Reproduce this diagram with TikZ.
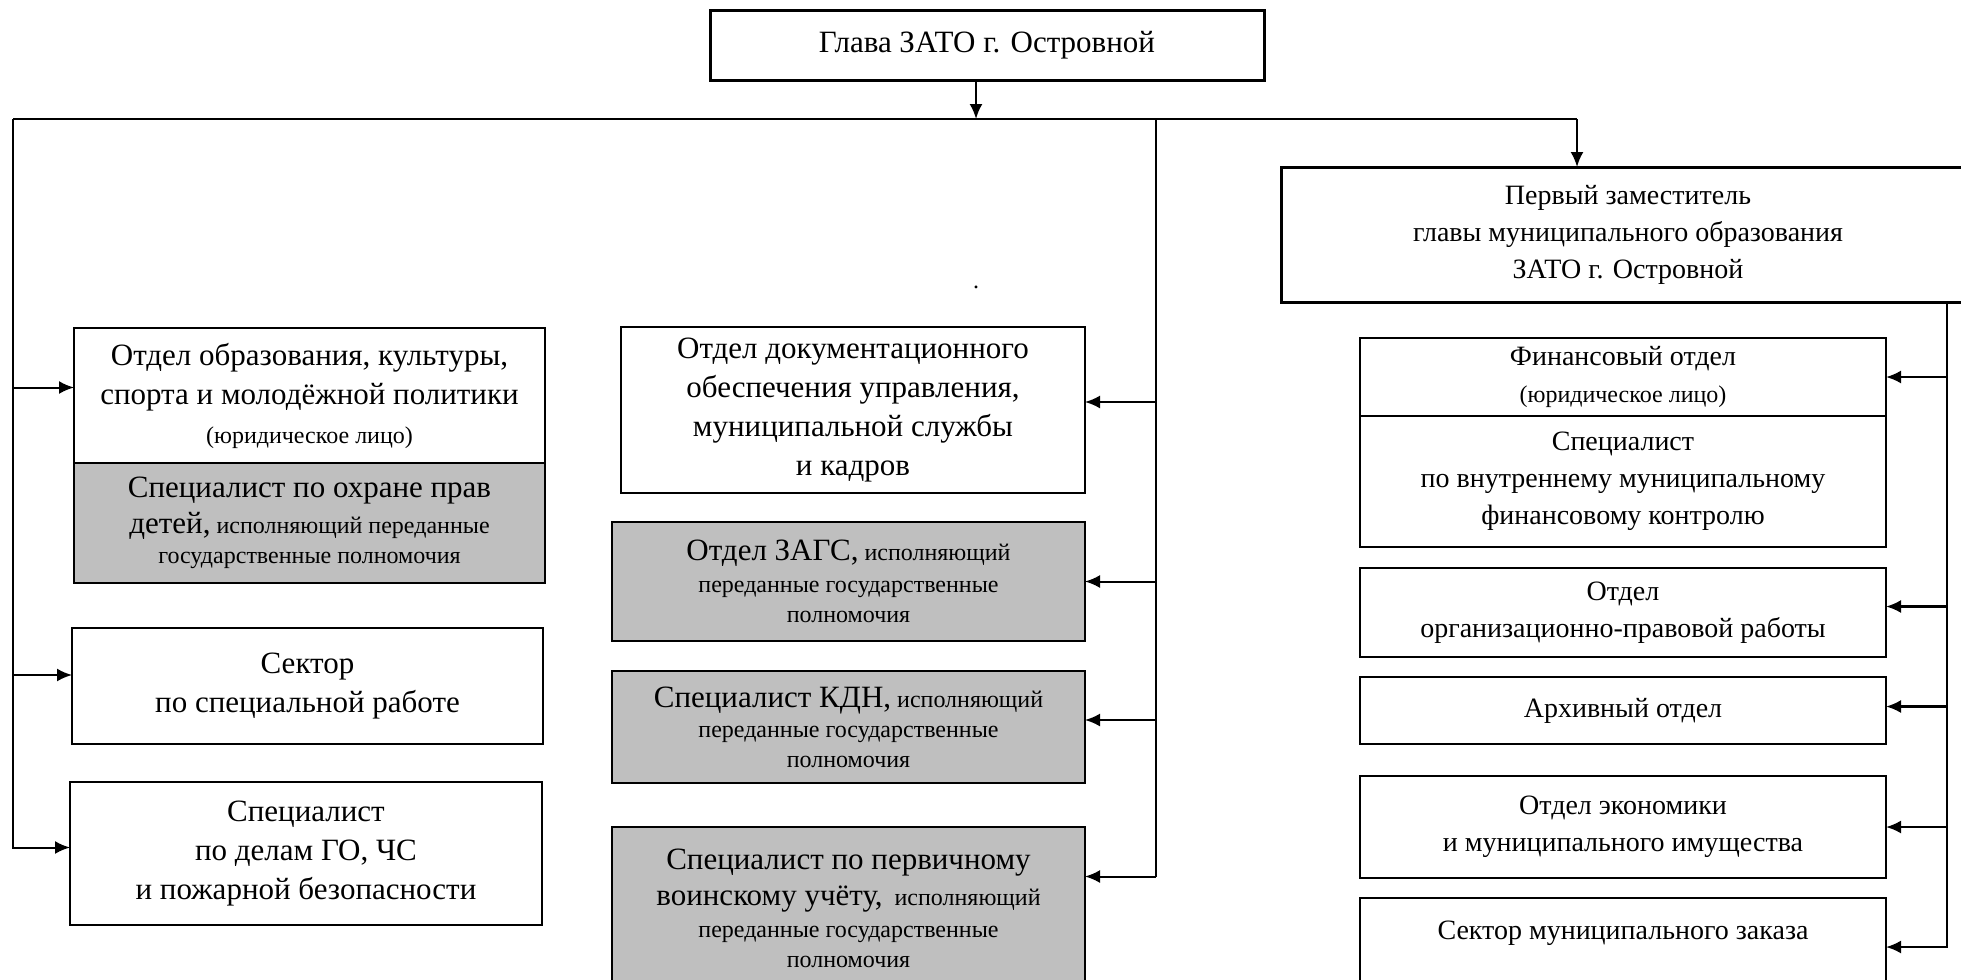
\documentclass[tikz,border=0pt]{standalone}
\usepackage{fontspec}
\setmainfont{Liberation Serif}
\usetikzlibrary{calc}
\usetikzlibrary{arrows.meta}
\tikzset{>={Latex[length=7.5pt,width=6.5pt]}}
\colorlet{grayfill}{black!25}
\newcommand{\bigf}{\fontsize{15.5}{19.5}\selectfont}
\newcommand{\midf}{\fontsize{14}{18.5}\selectfont}
\newcommand{\smallf}{\fontsize{12}{15}\selectfont}
\tikzset{unit/.style = {shape=rectangle,draw,line width=0.8pt,inner sep=0pt,outer sep=0pt,align=center,font=\bigf}}
\tikzset{grayunit/.style = {unit,fill=grayfill,font=\smallf}}
\tikzset{rightunit/.style = {unit,font=\midf,minimum width=263pt}}
\tikzset{headbox/.style = {unit,line width=1.5pt}}

\begin{document}
\begin{tikzpicture}[x=0.5pt,y=-0.5pt]
                    \clip (0,0) rectangle (1961,980);

                    \node[headbox,minimum width=277pt,minimum height=35pt] (glava) at (987,45) {Глава ЗАТО г. Островной};
                    \node[headbox,font=\midf,minimum width=347pt,minimum height=67.5pt] (zam) at (1628,234.5) {Первый заместитель\\главы муниципального образования\\ЗАТО г. Островной};
                    \node[font=\smallf,inner sep=0pt] (dot) at (976,287) {.};

                    % left column
                    \node[unit,minimum width=235.5pt,minimum height=67.5pt] (obr) at (309.5,395.5) {Отдел образования, культуры,\\спорта и молодёжной политики\\{\smallf (юридическое лицо)}};
                    \node[grayunit,minimum width=235.5pt,minimum height=60pt] (ohr) at (309.5,523) {{\bigf Специалист по охране прав}\\[3pt]{\bigf детей,} исполняющий переданные\\государственные полномочия};
                    \node[unit,minimum width=235.5pt,minimum height=58pt] (sekt) at (307.5,686) {Сектор\\по специальной работе};
                    \node[unit,minimum width=236pt,minimum height=71.5pt] (gochs) at (306,853.5) {Специалист\\по делам ГО, ЧС\\и пожарной безопасности};

                    % middle column
                    \node[unit,minimum width=232pt,minimum height=83pt] (doc) at (853,410) {Отдел документационного\\обеспечения управления,\\муниципальной службы\\и кадров};
                    \node[grayunit,minimum width=236.5pt,minimum height=59.5pt] (zags) at (848.5,581.5) {{\bigf Отдел ЗАГС,} исполняющий\\[1pt]переданные государственные\\полномочия};
                    \node[grayunit,minimum width=236.5pt,minimum height=56pt] (kdn) at (848.5,727) {{\bigf Специалист КДН,} исполняющий\\переданные государственные\\полномочия};
                    \node[grayunit,minimum width=236.5pt,minimum height=81.5pt] (vus) at (848.5,908.5) {{\bigf Специалист по первичному}\\[3pt]{\bigf воинскому учёту,}\ \ исполняющий\\[1pt]переданные государственные\\полномочия};

                    % right column
                    \node[rightunit,minimum height=39pt] (fin) at (1623,377) {Финансовый отдел\\{\smallf (юридическое лицо)}};
                    \node[rightunit,minimum height=65.5pt] (fink) at (1623,481.5) {Специалист\\по внутреннему муниципальному\\финансовому контролю};
                    \node[rightunit,minimum height=44.5pt] (orp) at (1623,612.5) {Отдел\\организационно-правовой работы};
                    \node[rightunit,minimum height=33.5pt] (arh) at (1623,710.5) {Архивный отдел};
                    \node[rightunit,minimum height=51pt] (econ) at (1623,827) {Отдел экономики\\и муниципального имущества};
                    \node[rightunit,line width=1.1pt,minimum height=51pt] (zak) at (1623,949) {Сектор муниципального заказа\\ \mbox{}};

                    \coordinate (busL) at (13,119);
                    \coordinate (busR) at (1577,119);
                    \coordinate (busG) at (976,119);
                    \coordinate (busM) at (1156,119);
                    \coordinate (spR) at (1947,302);
                    \coordinate (obrin) at ([yshift=4pt]obr.west);
                    \coordinate (sektin) at ([yshift=5.5pt]sekt.west);
                    \coordinate (gochsin) at ([yshift=3pt]gochs.west);
                    \coordinate (docin) at ([yshift=4pt]doc.east);
                    \coordinate (kdnin) at ([yshift=3.5pt]kdn.east);
                    \coordinate (vusin) at ([yshift=16pt]vus.east);
                    \coordinate (orpin) at ([yshift=3pt]orp.east);
                    \coordinate (arhin) at ([yshift=2pt]arh.east);
                    \coordinate (zakin) at ([yshift=1pt]zak.east);

                    \draw[line width=1.2pt] (busL) -- (busR);
                    \draw[->,line width=1.1pt] (busG |- glava.south) -- (busG);
                    \draw[->,line width=1.1pt] (busR) -- (busR |- zam.north);

                    \draw[->,line width=1pt] (busL) |- (gochsin);
                    \draw[->,line width=1pt] (busL |- obrin) -- (obrin);
                    \draw[->,line width=1pt] (busL |- sektin) -- (sektin);

                    \draw[line width=0.6pt] (busM) -- (busM |- vusin);
                    \draw[->,line width=1pt] (busM |- vusin) -- (vusin);
                    \draw[->,line width=1pt] (busM |- docin) -- (docin);
                    \draw[->,line width=1pt] (busM |- zags.east) -- (zags.east);
                    \draw[->,line width=1pt] (busM |- kdnin) -- (kdnin);

                    \draw[->,line width=1.1pt] (spR) |- (zakin);
                    \draw[->,line width=1.1pt] (spR |- fin.east) -- (fin.east);
                    \draw[->,line width=1.1pt] (spR |- orpin) -- (orpin);
                    \draw[->,line width=1.1pt] (spR |- arhin) -- (arhin);
                    \draw[->,line width=1.1pt] (spR |- econ.east) -- (econ.east);
                \end{tikzpicture}
\end{document}
